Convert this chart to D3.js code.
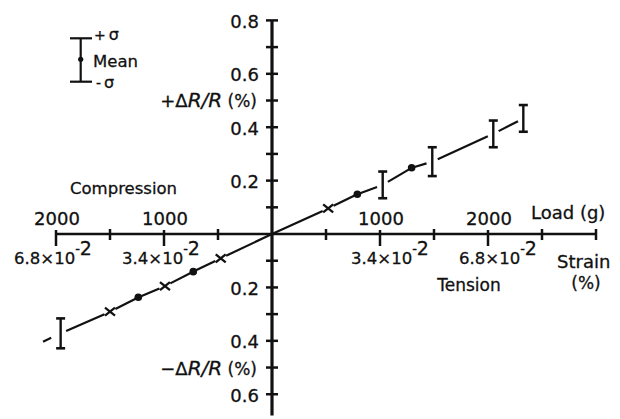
<!DOCTYPE html>
<html><head><meta charset="utf-8">
<script src="https://cdn.jsdelivr.net/npm/d3@7"></script>
<style>
html,body{margin:0;padding:0;background:#fff;}
svg text{font-family:"DejaVu Sans",sans-serif;fill:#111;stroke:#111;stroke-width:0.3px;}
</style></head>
<body>
<svg id="c" width="620" height="419"></svg>
<script>
// ---- data (load in g, ΔR/R in %) ----
const crossLoad = [-1500, -991, -475, 520];
const crossDR   = [-0.291, -0.195, -0.091, 0.096];
const dotLoad   = [-1238, -729, 790, 1293];
const dotDR     = [-0.237, -0.141, 0.149, 0.248];
const barLoad   = [-1957, 1025, 1484, 2049, 2327];
const barMean   = [-0.372, 0.184, 0.271, 0.375, 0.433];
const barSigma  = [0.056, 0.050, 0.054, 0.050, 0.050];
const lineExtLoad = [-2120];
const lineExtDR   = [-0.403];
const loadTicksMinor = [-1500, -500, 500, 1500, 2500, 3000];
const loadTicksMajor = [-2000, -1000, 1000, 2000];
const loadTickLabels = ["2000", "1000", "1000", "2000"];
const strainTickLabels = ["6.8×10", "3.4×10", "3.4×10", "6.8×10"];
const drTicks = [-0.6, -0.5, -0.4, -0.3, -0.2, -0.1, 0.1, 0.2, 0.3, 0.4, 0.5, 0.6, 0.7, 0.8];
const drTickLabels = [[0.8, "0.8"], [0.6, "0.6"], [0.4, "0.4"], [0.2, "0.2"], [-0.2, "0.2"], [-0.4, "0.4"], [-0.6, "0.6"]];

const svg = d3.select("#c");
const x = d3.scaleLinear().domain([-2000, 3000]).range([56, 596]);
const y = d3.scaleLinear().domain([-0.68, 0.8]).range([415.6, 20.4]);
const ink = "#111";

// ---- axes ----
svg.append("line").attr("x1", x(-2000)).attr("x2", x(3000)).attr("y1", y(0)).attr("y2", y(0))
  .attr("stroke", ink).attr("stroke-width", 2.5);
svg.append("line").attr("x1", x(0)).attr("x2", x(0)).attr("y1", y(0.8)).attr("y2", y(-0.68))
  .attr("stroke", ink).attr("stroke-width", 3.2);

svg.selectAll(".xt1").data(loadTicksMinor).enter().append("line")
  .attr("x1", d => x(d)).attr("x2", d => x(d)).attr("y1", y(0) - 5).attr("y2", y(0) + 6)
  .attr("stroke", ink).attr("stroke-width", 2.5);
svg.selectAll(".xt2").data(loadTicksMajor).enter().append("line")
  .attr("x1", d => x(d)).attr("x2", d => x(d)).attr("y1", y(0) - 4).attr("y2", y(0) + 12)
  .attr("stroke", ink).attr("stroke-width", 2.5);
svg.selectAll(".yt").data(drTicks).enter().append("line")
  .attr("x1", x(0) - 6).attr("x2", x(0) + 6).attr("y1", d => y(d)).attr("y2", d => y(d))
  .attr("stroke", ink).attr("stroke-width", 2.5);

// y tick labels
svg.selectAll(".yl").data(drTickLabels).enter().append("text")
  .attr("x", x(0) - 13).attr("y", d => y(d[0]) + 1).attr("text-anchor", "end")
  .attr("dominant-baseline", "central").attr("font-size", 18).text(d => d[1]);

// load labels above axis
svg.selectAll(".xl").data(loadTicksMajor).enter().append("text")
  .attr("x", d => x(d) + 1).attr("y", y(0) - 9).attr("text-anchor", "middle")
  .attr("font-size", 18).text((d, i) => loadTickLabels[i]);

// strain labels below axis
const st = svg.selectAll(".sl").data(loadTicksMajor).enter().append("text")
  .attr("x", d => x(d) + (d < 0 ? -3 : 10)).attr("y", y(0) + 30).attr("text-anchor", "middle")
  .attr("font-size", 16.5);
st.append("tspan").text((d, i) => strainTickLabels[i]);
st.append("tspan").attr("dy", -11).attr("font-size", 13).text("-");
st.append("tspan").attr("dy", 2).attr("font-size", 19).text("2");

// axis titles
svg.append("text").attr("x", 70).attr("y", y(0) - 40).attr("font-size", 16.5).text("Compression");
svg.append("text").attr("x", 531).attr("y", y(0) - 15).attr("font-size", 18).text("Load (g)");
svg.append("text").attr("x", 557).attr("y", y(0) + 34).attr("font-size", 18).text("Strain");
svg.append("text").attr("x", 586).attr("y", y(0) + 55).attr("font-size", 17).attr("text-anchor", "middle").text("(%)");
svg.append("text").attr("x", 469).attr("y", y(0) + 57).attr("font-size", 17).attr("text-anchor", "middle").text("Tension");

function drTitle(sign, yy) {
  const t = svg.append("text").attr("x", x(0) - 15).attr("y", yy).attr("text-anchor", "end").attr("font-size", 20);
  t.append("tspan").attr("font-size", 18).text(sign + "Δ");
  t.append("tspan").attr("font-style", "italic").text("R/R");
  t.append("tspan").attr("font-size", 17).text(" (%)");
}
drTitle("+", y(0.5) + 6);
drTitle("−", y(-0.5) + 7);

// ---- line segments between markers ----
const nodes = [];
lineExtLoad.forEach((l, i) => nodes.push({l, v: lineExtDR[i], g: 0}));
barLoad.forEach((l, i) => nodes.push({l, v: barMean[i], g: 6}));
crossLoad.forEach((l, i) => nodes.push({l, v: crossDR[i], g: 6}));
dotLoad.forEach((l, i) => nodes.push({l, v: dotDR[i], g: 3}));
nodes.push({l: 0, v: 0, g: 0});
nodes.sort((a, b) => a.l - b.l);
for (let i = 0; i < nodes.length - 1; i++) {
  const a = nodes[i], b = nodes[i + 1];
  const ax = x(a.l), ay = y(a.v), bx = x(b.l), by = y(b.v);
  const dx = bx - ax, dy = by - ay, len = Math.hypot(dx, dy);
  if (i === 0) { // short isolated stub left of the last bar
    svg.append("line").attr("x1", ax).attr("y1", ay).attr("x2", ax + dx * 9 / len).attr("y2", ay + dy * 9 / len)
      .attr("stroke", ink).attr("stroke-width", 2.2);
    continue;
  }
  svg.append("line")
    .attr("x1", ax + dx * a.g / len).attr("y1", ay + dy * a.g / len)
    .attr("x2", bx - dx * b.g / len).attr("y2", by - dy * b.g / len)
    .attr("stroke", ink).attr("stroke-width", 2.2);
}

// ---- markers ----
svg.selectAll(".dot").data(dotLoad).enter().append("circle")
  .attr("cx", d => x(d)).attr("cy", (d, i) => y(dotDR[i])).attr("r", 3.8).attr("fill", ink);

const cr = svg.selectAll(".cr").data(crossLoad).enter().append("g")
  .attr("transform", (d, i) => `translate(${x(d)},${y(crossDR[i])})`);
cr.append("line").attr("x1", -5).attr("y1", -4).attr("x2", 5).attr("y2", 4).attr("stroke", ink).attr("stroke-width", 2.3);
cr.append("line").attr("x1", -5).attr("y1", 4).attr("x2", 5).attr("y2", -4).attr("stroke", ink).attr("stroke-width", 2.3);

const eb = svg.selectAll(".eb").data(barLoad).enter().append("g");
eb.append("line").attr("x1", d => x(d)).attr("x2", d => x(d))
  .attr("y1", (d, i) => y(barMean[i] + barSigma[i])).attr("y2", (d, i) => y(barMean[i] - barSigma[i]))
  .attr("stroke", ink).attr("stroke-width", 2.4);
eb.append("line").attr("x1", d => x(d) - 4.5).attr("x2", d => x(d) + 4.5)
  .attr("y1", (d, i) => y(barMean[i] + barSigma[i])).attr("y2", (d, i) => y(barMean[i] + barSigma[i]))
  .attr("stroke", ink).attr("stroke-width", 2.6);
eb.append("line").attr("x1", d => x(d) - 4.5).attr("x2", d => x(d) + 4.5)
  .attr("y1", (d, i) => y(barMean[i] - barSigma[i])).attr("y2", (d, i) => y(barMean[i] - barSigma[i]))
  .attr("stroke", ink).attr("stroke-width", 2.6);

// ---- legend ----
const lg = svg.append("g");
lg.append("line").attr("x1", 80.7).attr("x2", 80.7).attr("y1", 38.3).attr("y2", 81.7).attr("stroke", ink).attr("stroke-width", 2.2);
lg.append("line").attr("x1", 70).attr("x2", 92).attr("y1", 38.3).attr("y2", 38.3).attr("stroke", ink).attr("stroke-width", 2.2);
lg.append("line").attr("x1", 70).attr("x2", 92).attr("y1", 81.7).attr("y2", 81.7).attr("stroke", ink).attr("stroke-width", 2.2);
lg.append("circle").attr("cx", 80.7).attr("cy", 59.3).attr("r", 2.6).attr("fill", ink);
const p = lg.append("text").attr("x", 94).attr("y", 40).attr("font-size", 14);
p.append("tspan").text("+");
p.append("tspan").attr("dx", 3).attr("font-size", 16).text("σ");
lg.append("text").attr("x", 93).attr("y", 66.5).attr("font-size", 16.5).text("Mean");
const m = lg.append("text").attr("x", 96).attr("y", 88).attr("font-size", 14);
m.append("tspan").text("-");
m.append("tspan").attr("dx", 3).attr("font-size", 16).text("σ");
</script>
</body></html>
